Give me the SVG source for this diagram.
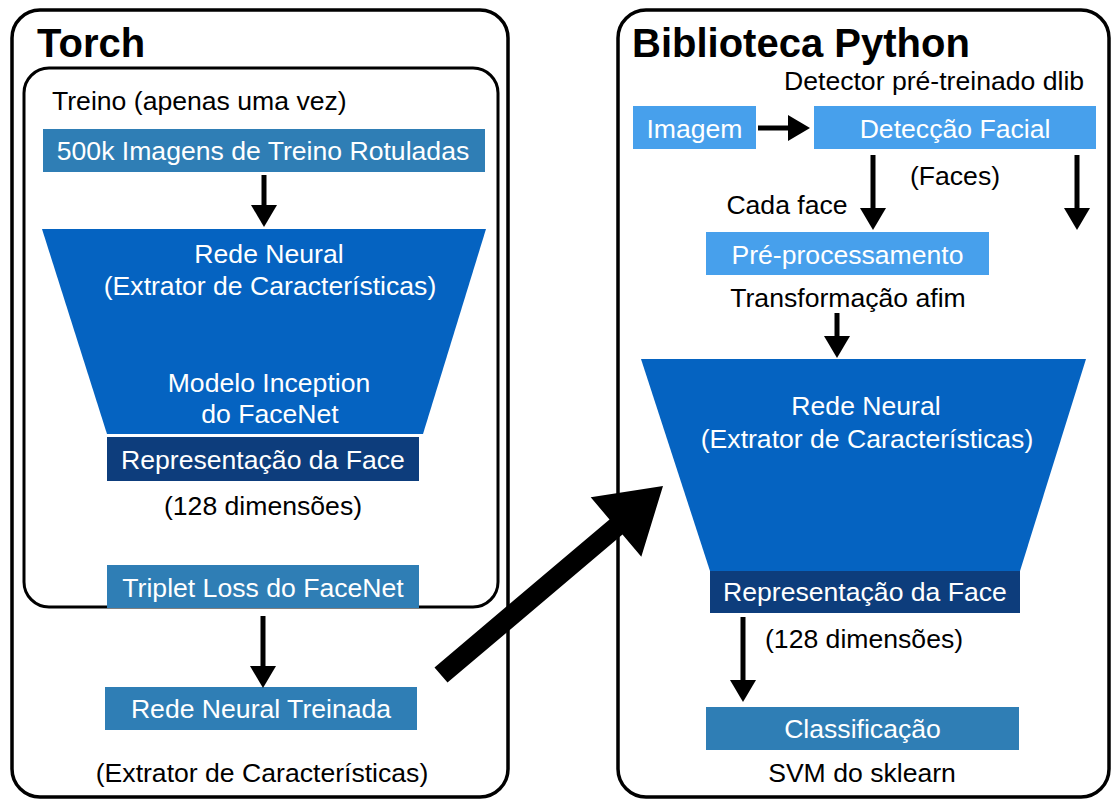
<svg xmlns="http://www.w3.org/2000/svg" width="1113" height="801" viewBox="0 0 1113 801">
<style>
.frame{fill:none;stroke:#000;stroke-width:3.5}
.t{font-family:"Liberation Sans",Arial,sans-serif;font-size:26.6px;fill:#000}
.w{fill:#fff}
.c{text-anchor:middle}
.title{font-family:"Liberation Sans",Arial,sans-serif;font-size:40px;font-weight:bold;fill:#000}
.steel{fill:#2F7EB5}
.royal{fill:#0563C1}
.navy{fill:#0D3D7C}
.light{fill:#47A0EC}
.arr{stroke:#000;stroke-width:5;fill:none;marker-end:url(#ah)}
</style>
<defs>
<marker id="ah" markerUnits="userSpaceOnUse" markerWidth="22" markerHeight="26" refX="10" refY="13" orient="auto" viewBox="0 0 22 26">
<path d="M0,0 L22,13 L0,26 z" fill="#000"/>
</marker>
</defs>
<rect width="1113" height="801" fill="#fff"/>

<g id="torch">
<rect class="frame" x="12" y="10" width="496" height="787" rx="28"/>
<text class="title" x="37" y="57">Torch</text>
</g>
<g id="treino">
<rect class="frame" x="24" y="68" width="474" height="539" rx="25" style="stroke-width:3"/>
<text class="t" x="52" y="110">Treino (apenas uma vez)</text>
</g>
<g id="imagens-treino">
<rect class="steel" x="43" y="129" width="442" height="43"/>
<text class="t w c" x="263" y="160">500k Imagens de Treino Rotuladas</text>
</g>
<g id="rede-neural-treino">
<polygon class="royal" points="42,229 486,229 423,434 107,434"/>
<text class="t w c" x="269" y="263">Rede Neural</text>
<text class="t w c" x="270" y="295">(Extrator de Características)</text>
<text class="t w c" x="269" y="392">Modelo Inception</text>
<text class="t w c" x="270" y="423">do FaceNet</text>
</g>
<g id="representacao-treino">
<rect class="navy" x="107" y="437" width="312" height="44"/>
<text class="t w c" x="263" y="469">Representação da Face</text>
<text class="t c" x="263" y="515">(128 dimensões)</text>
</g>
<g id="triplet-loss">
<rect class="steel" x="107" y="565" width="312" height="43"/>
<text class="t w c" x="263" y="597">Triplet Loss do FaceNet</text>
</g>
<g id="rede-treinada">
<rect class="steel" x="105" y="687" width="312" height="43"/>
<text class="t w c" x="261" y="718">Rede Neural Treinada</text>
<text class="t c" x="262" y="782">(Extrator de Características)</text>
</g>

<g id="python">
<rect class="frame" x="618" y="10" width="491" height="787" rx="28"/>
<text class="title" x="632" y="57">Biblioteca Python</text>
<text class="t" x="784" y="90">Detector pré-treinado dlib</text>
</g>
<g id="imagem">
<rect class="light" x="633" y="106" width="123" height="43"/>
<text class="t w c" x="694.5" y="138">Imagem</text>
</g>
<g id="deteccao">
<rect class="light" x="814" y="106" width="282" height="43"/>
<text class="t w c" x="955" y="138">Detecção Facial</text>
<text class="t c" x="955" y="185">(Faces)</text>
<text class="t c" x="787" y="214">Cada face</text>
</g>
<g id="preprocessamento">
<rect class="light" x="706" y="232" width="283" height="43"/>
<text class="t w c" x="847.5" y="264">Pré-processamento</text>
<text class="t c" x="848" y="307">Transformação afim</text>
</g>
<g id="rede-neural-python">
<polygon class="royal" points="641,359 1086,359 1020,571 710,571"/>
<text class="t w c" x="866" y="415">Rede Neural</text>
<text class="t w c" x="867" y="448">(Extrator de Características)</text>
</g>
<g id="representacao-python">
<rect class="navy" x="710" y="571" width="310" height="42"/>
<text class="t w c" x="865" y="601">Representação da Face</text>
<text class="t" x="765" y="648">(128 dimensões)</text>
</g>
<g id="classificacao">
<rect class="steel" x="706" y="707" width="313" height="43"/>
<text class="t w c" x="862.5" y="738">Classificação</text>
<text class="t c" x="862" y="782">SVM do sklearn</text>
</g>

<g id="connectors">
<line class="arr" x1="264" y1="175" x2="264" y2="215"/>
<line class="arr" x1="263" y1="616" x2="263" y2="676"/>
<line class="arr" x1="758" y1="128" x2="798" y2="128"/>
<line class="arr" x1="873" y1="155" x2="873" y2="218"/>
<line class="arr" x1="1077" y1="155" x2="1077" y2="218"/>
<line class="arr" x1="837" y1="313" x2="837" y2="346"/>
<line class="arr" x1="743" y1="617" x2="743" y2="690"/>
<polygon fill="#000" points="434.5,667.4 609.5,519.4 590.7,497.3 663,486 641.3,556.7 622.5,534.6 447.5,682.6"/>
</g>
</svg>
